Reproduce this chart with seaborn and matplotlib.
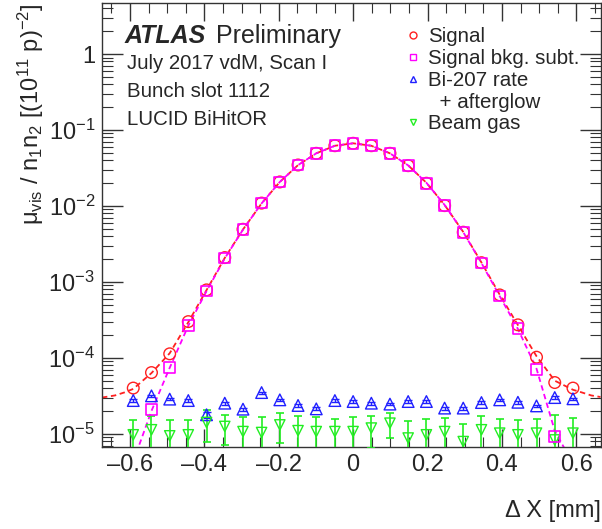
#!/usr/bin/env python3

import numpy as np
import matplotlib
matplotlib.use("Agg")
import matplotlib.pyplot as plt
from matplotlib.lines import Line2D
from matplotlib.ticker import FixedLocator, LogLocator, FuncFormatter, NullFormatter
import seaborn as sns


# beam separation [mm]
dx = [-0.591, -0.542, -0.493, -0.443, -0.394, -0.345, -0.296, -0.246, -0.197, -0.148, -0.099, -0.049, 0.0,
      0.049, 0.099, 0.148, 0.197, 0.246, 0.296, 0.345, 0.394, 0.443, 0.493, 0.542, 0.591]

signal = [4.0e-5, 6.4e-5, 1.13e-4, 3.0e-4, 7.85e-4, 2.09e-3, 4.93e-3, 1.09e-2, 2.07e-2, 3.46e-2, 4.93e-2, 6.21e-2, 6.68e-2,
          6.21e-2, 4.93e-2, 3.39e-2, 1.99e-2, 1.01e-2, 4.51e-3, 1.79e-3, 6.74e-4, 2.72e-4, 1.02e-4, 4.73e-5, 4.0e-5]

bkg_subt = [np.nan, 2.07e-5, 7.5e-5, 2.66e-4, 7.6e-4, 2.06e-3, 4.9e-3, 1.09e-2, 2.07e-2, 3.46e-2, 4.93e-2, 6.21e-2, 6.68e-2,
            6.21e-2, 4.93e-2, 3.39e-2, 1.99e-2, 1.01e-2, 4.5e-3, 1.77e-3, 6.5e-4, 2.46e-4, 7.1e-5, 9.2e-6, np.nan]

bi207 = [2.74e-5, 3.16e-5, 2.86e-5, 2.74e-5, 1.78e-5, 2.53e-5, 2.11e-5, 3.49e-5, 2.8e-5, 2.36e-5, 2.13e-5, 2.74e-5, 2.66e-5,
         2.53e-5, 2.46e-5, 2.66e-5, 2.66e-5, 2.18e-5, 2.18e-5, 2.58e-5, 2.8e-5, 2.6e-5, 2.33e-5, 3.0e-5, 2.89e-5]
bi207_err = [1.0e-6, 1.1e-6, 1.0e-6, 1.0e-6, 1.5e-6, 1.0e-6, 1.0e-6, 1.1e-6, 1.0e-6, 1.0e-6, 1.0e-6, 1.0e-6, 1.0e-6,
             1.0e-6, 1.0e-6, 1.0e-6, 1.0e-6, 1.0e-6, 1.0e-6, 1.0e-6, 1.0e-6, 1.0e-6, 1.0e-6, 1.1e-6, 1.1e-6]

beam_gas = [9.7e-6, 1.13e-5, 9.4e-6, 9.7e-6, 1.41e-5, 1.25e-5, 1.07e-5, 1.04e-5, 1.31e-5, 1.1e-5, 1.07e-5, 1.07e-5, 1.07e-5,
            1.19e-5, 1.38e-5, 8.8e-6, 9.7e-6, 1.07e-5, 7.9e-6, 1.13e-5, 1.02e-5, 9.7e-6, 1.02e-5, 8.3e-6, 1.02e-5]
beam_gas_err = [5.6e-6, 6.0e-6, 5.9e-6, 5.6e-6, 6.3e-6, 5.3e-6, 5.9e-6, 6.2e-6, 5.6e-6, 6.3e-6, 5.9e-6, 4.9e-6, 5.9e-6,
                5.4e-6, 4.9e-6, 6.0e-6, 5.9e-6, 5.5e-6, 5.6e-6, 5.7e-6, 5.4e-6, 5.6e-6, 5.4e-6, 9.5e-6, 6.0e-6]

# fitted curves
dx_fit = [-0.675, -0.640, -0.615] + dx + [0.615, 0.640, 0.665]
signal_fit = [3.0e-5, 3.2e-5, 3.5e-5,
              3.9e-5, 6.3e-5, 1.15e-4, 2.95e-4, 7.8e-4, 2.07e-3, 4.9e-3, 1.08e-2, 2.07e-2, 3.45e-2, 4.93e-2, 6.2e-2, 6.68e-2,
              6.2e-2, 4.93e-2, 3.42e-2, 2.02e-2, 1.03e-2, 4.55e-3, 1.8e-3, 6.8e-4, 2.7e-4, 1.05e-4, 5.0e-5, 3.8e-5,
              3.5e-5, 3.2e-5, 3.05e-5]
bkg_subt_fit = [np.nan, np.nan, np.nan,
                4.3e-6, 2.0e-5, 7.4e-5, 2.65e-4, 7.55e-4, 2.04e-3, 4.87e-3, 1.08e-2, 2.07e-2, 3.45e-2, 4.93e-2, 6.2e-2, 6.68e-2,
                6.2e-2, 4.93e-2, 3.42e-2, 2.02e-2, 1.03e-2, 4.52e-3, 1.77e-3, 6.5e-4, 2.4e-4, 7.2e-5, 1.1e-5, 4.0e-6,
                np.nan, np.nan, np.nan]

sns.set_style("ticks")
plt.rcParams["font.family"] = ["Liberation Sans", "DejaVu Sans"]
plt.rcParams["mathtext.fontset"] = "custom"
plt.rcParams["mathtext.rm"] = "Liberation Sans"
plt.rcParams["mathtext.it"] = "Liberation Sans:italic"
plt.rcParams["mathtext.bf"] = "Liberation Sans:bold"

RED = "#ff2020"
MAG = "#ff00ff"
BLUE = "#2020ff"
GREEN = "#22ee22"

fig = plt.figure(figsize=(6.02, 5.29), dpi=100)
ax = fig.add_axes([102 / 602, 1 - 447 / 529, 498.5 / 602, 444 / 529])
ax.set_yscale("log")

sns.lineplot(x=dx_fit, y=signal_fit, ax=ax, color=RED, lw=1.3, dashes=(3, 2), sort=False, estimator=None, zorder=2)
sns.lineplot(x=dx_fit, y=bkg_subt_fit, ax=ax, color=MAG, lw=1.3, dashes=(3, 2), sort=False, estimator=None, zorder=2)

ax.errorbar(dx, beam_gas, yerr=beam_gas_err, fmt="none", ecolor=GREEN, elinewidth=1.2, capsize=3, capthick=1.2, zorder=3)
ax.errorbar(dx, bi207, yerr=bi207_err, fmt="none", ecolor=BLUE, elinewidth=1.0, capsize=3, capthick=1.0, zorder=3)

sns.scatterplot(x=dx, y=signal, ax=ax, marker="o", s=70, facecolor="none", edgecolor=RED, linewidth=1.0, zorder=4)
sns.scatterplot(x=dx, y=bkg_subt, ax=ax, marker="s", s=60, facecolor="none", edgecolor=MAG, linewidth=1.2, zorder=5)
sns.scatterplot(x=dx, y=bi207, ax=ax, marker="^", s=70, facecolor="none", edgecolor=BLUE, linewidth=1.0, zorder=4)
sns.scatterplot(x=dx, y=beam_gas, ax=ax, marker="v", s=55, facecolor="none", edgecolor=GREEN, linewidth=1.0, zorder=4)

ax.set_xlim(-0.675, 0.665)
ax.set_ylim(6.7e-6, 4.7)

ax.xaxis.set_major_locator(FixedLocator([-0.6, -0.4, -0.2, 0.0, 0.2, 0.4, 0.6]))
ax.xaxis.set_minor_locator(FixedLocator([-0.65 + 0.05 * i for i in range(27)]))
ax.xaxis.set_major_formatter(FuncFormatter(lambda v, p: "0" if abs(v) < 1e-9 else f"{v:.1f}".replace("-", "\u2013")))
ax.yaxis.set_major_locator(LogLocator(base=10, numticks=20))
ax.yaxis.set_minor_locator(LogLocator(base=10, subs=np.arange(2, 10), numticks=20))
ax.yaxis.set_minor_formatter(NullFormatter())
ax.yaxis.set_major_formatter(FuncFormatter(
    lambda v, p: "1" if abs(v - 1) < 1e-9 else r"$10^{-%d}$" % round(-np.log10(v))))

ax.tick_params(axis="both", which="both", direction="in", top=True, right=True, labelsize=17, color="#333333")
ax.tick_params(axis="y", which="major", length=15, width=1.0, pad=5)
ax.tick_params(axis="y", which="minor", length=8, width=0.8)
ax.tick_params(axis="x", which="major", length=13, width=1.0, pad=5)
ax.tick_params(axis="x", which="minor", length=7, width=0.8)
for sp in ax.spines.values():
    sp.set_linewidth(1.0)
    sp.set_color("#333333")

ax.set_xlabel("\u0394 X [mm]", fontsize=17, loc="right")
ax.xaxis.set_label_coords(1.0, -0.12)
ax.set_ylabel("\u03bc$_{\\mathregular{vis}}$ / n$_{\\mathregular{1}}$n$_{\\mathregular{2}}$ "
              "[(10$^{\\mathregular{11}}$ p)$^{\\mathregular{-2}}$]",
              fontsize=17, loc="top")
ax.yaxis.set_label_coords(-0.112, 1.0)

ax.text(0.046, 0.9106, "ATLAS", transform=ax.transAxes, fontsize=18, fontweight="bold", fontstyle="italic")
ax.text(0.2287, 0.9106, "Preliminary", transform=ax.transAxes, fontsize=18)
ax.text(0.0495, 0.8507, "July 2017 vdM, Scan I", transform=ax.transAxes, fontsize=14.7)
ax.text(0.0495, 0.7876, "Bunch slot 1112", transform=ax.transAxes, fontsize=14.7)
ax.text(0.0495, 0.7252, "LUCID BiHitOR", transform=ax.transAxes, fontsize=14.7)

handles = [
    Line2D([], [], ls="none", marker="o", ms=5, mfc="none", mec=RED, mew=1.0),
    Line2D([], [], ls="none", marker="s", ms=5, mfc="none", mec=MAG, mew=1.0),
    Line2D([], [], ls="none", marker="^", ms=5, mfc="none", mec=BLUE, mew=1.0),
    Line2D([], [], ls="none", marker=None),
    Line2D([], [], ls="none", marker="v", ms=5, mfc="none", mec=GREEN, mew=1.0),
]
labels = ["Signal", "Signal bkg. subt.", "Bi-207 rate", "  + afterglow", "Beam gas"]
ax.legend(handles, labels, loc="upper left", bbox_to_anchor=(0.6094, 0.946), frameon=False, fontsize=14.8,
          handlelength=0.7, handletextpad=0.38, labelspacing=0.14, borderpad=0, borderaxespad=0)

fig.savefig("out.png", dpi=100)
